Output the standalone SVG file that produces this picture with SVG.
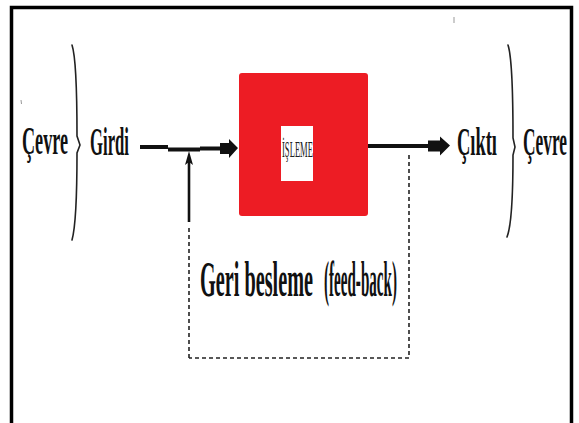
<svg xmlns="http://www.w3.org/2000/svg" width="579" height="423" viewBox="0 0 579 423">
  <style>
    .lbl { font-family: "Liberation Serif", "Times New Roman", serif; font-weight: bold; fill: #111; }
    .brace { fill: none; stroke: #222; stroke-width: 1.6; stroke-linecap: round; }
    .solid { fill: none; stroke: #111; stroke-linecap: butt; }
    .dash { fill: none; stroke: #222; stroke-width: 1.6; stroke-dasharray: 4 3; }
    .head { fill: #111; }
  </style>
  <rect x="0" y="0" width="579" height="423" fill="#ffffff"/>
  <path d="M11.5,423 V7.5 H571.5 V423" fill="none" stroke="#000" stroke-width="3.5"/>
  <line x1="454" y1="17" x2="454" y2="23" stroke="#999" stroke-width="1"/>
  <line x1="21" y1="100" x2="21.5" y2="104" stroke="#999" stroke-width="1"/>

  <g id="env-left">
    <text class="lbl" x="22" y="154" font-size="40" textLength="46" lengthAdjust="spacingAndGlyphs">Çevre</text>
    <path class="brace" d="M72,45 C77,60 77,115 77,136 L80,145 L77,153 C77,180 77,222 72,240"/>
  </g>

  <g id="input">
    <text class="lbl" x="90" y="155" font-size="40" textLength="39" lengthAdjust="spacingAndGlyphs">Girdi</text>
  </g>

  <g id="process">
    <rect x="239" y="73" width="129" height="143" rx="3" fill="#ED1C24"/>
    <rect x="281" y="126" width="32" height="55" fill="#ffffff"/>
    <text x="282" y="157" font-family="'Liberation Serif', 'Times New Roman', serif" font-size="24" fill="#222" textLength="31" lengthAdjust="spacingAndGlyphs">İŞLEME</text>
  </g>

  <g id="output">
    <text class="lbl" x="457" y="155" font-size="40" textLength="40" lengthAdjust="spacingAndGlyphs">Çıktı</text>
  </g>

  <g id="env-right">
    <path class="brace" d="M508,45 C513,60 513,115 513,138 L515,147 L513,155 C513,180 513,222 507,237"/>
    <text class="lbl" x="523" y="155" font-size="40" textLength="44" lengthAdjust="spacingAndGlyphs">Çevre</text>
  </g>

  <g id="feedback-label">
    <text class="lbl" y="296" font-size="50"><tspan x="200" textLength="113" lengthAdjust="spacingAndGlyphs">Geri besleme</tspan><tspan x="324" textLength="73" lengthAdjust="spacingAndGlyphs">(feed-back)</tspan></text>
  </g>

  <g id="connectors">
    <path class="solid" stroke-width="4" d="M140,147 H168 M168,149.5 H200 M200,148.5 H221"/>
    <polygon class="head" points="220,143 229,143 229,139 238,148 229,158 229,154 220,154"/>
    <path class="solid" stroke-width="4" d="M368,146 H429"/>
    <polygon class="head" points="428,140.5 440,140.5 440,136.5 450,145.5 440,155.5 440,151.5 428,151.5"/>
    <path class="dash" d="M409,155 V358"/>
    <path class="dash" d="M409,358 H189" stroke-width="2.4" stroke-dasharray="2 1.2"/>
    <path class="dash" d="M189,358 V228"/>
    <line class="solid" x1="189" y1="222" x2="189" y2="162" stroke-width="2.6"/>
    <polygon class="head" points="189,151 193,165 189,162 185,165"/>
  </g>
</svg>
